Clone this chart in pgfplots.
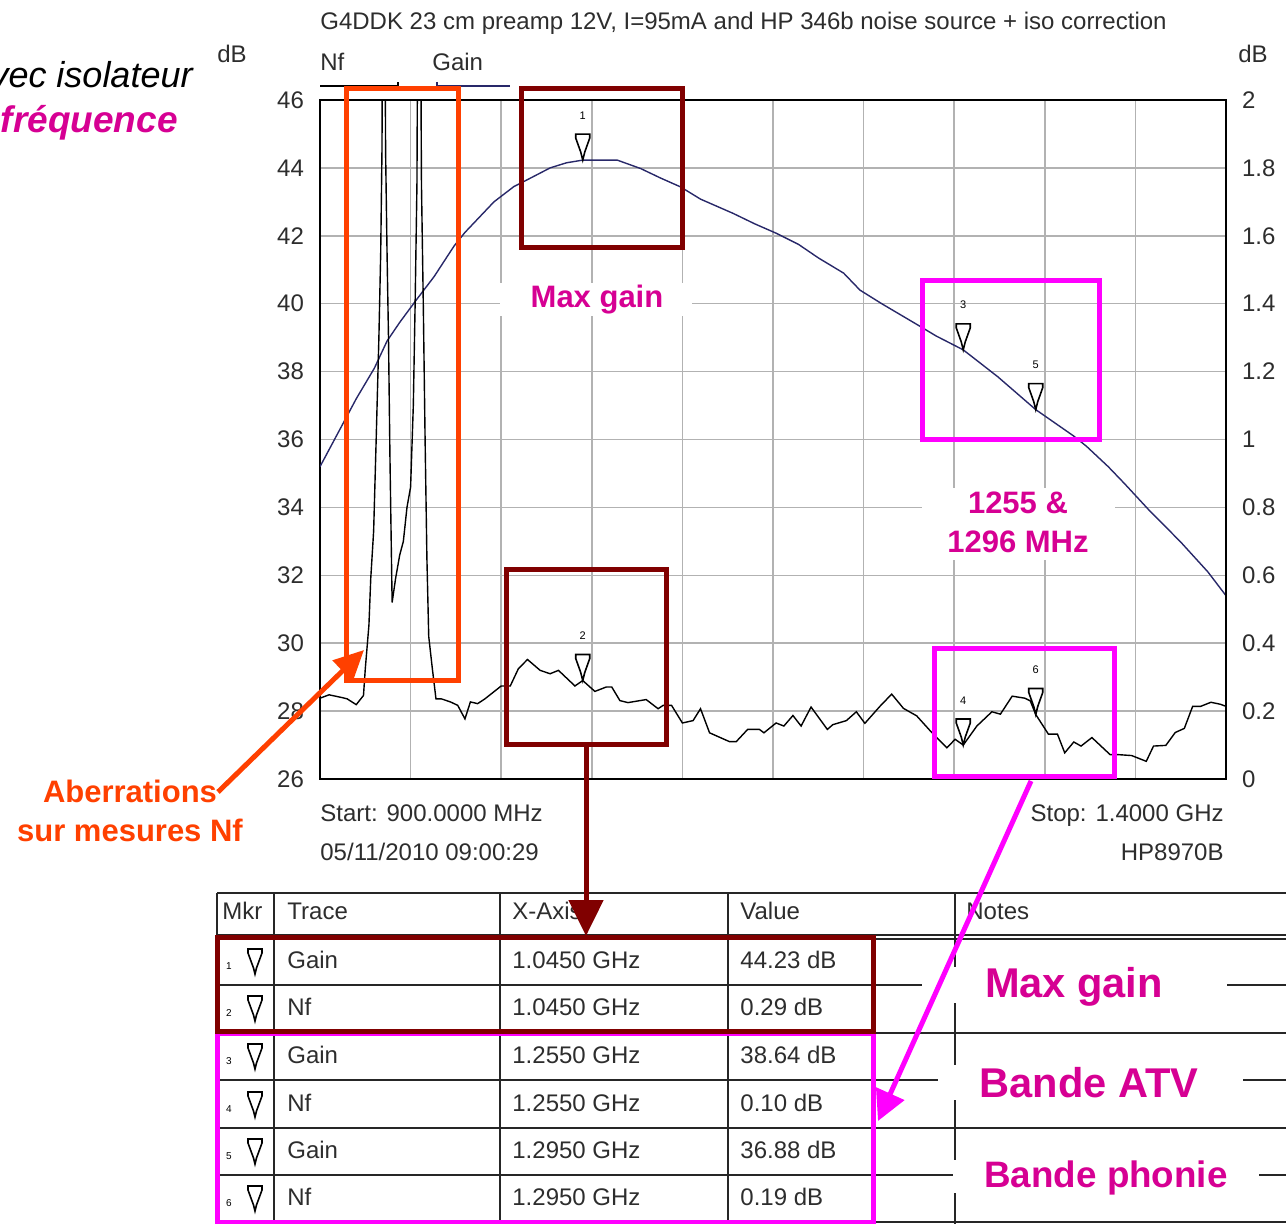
\documentclass[border=0pt]{standalone}
\usepackage{fontspec}
\setmainfont{Liberation Sans}
\usepackage{pgfplots}
\pgfplotsset{compat=1.18}
\usetikzlibrary{arrows.meta}
\definecolor{gridgray}{RGB}{178,178,178}
\definecolor{gaincol}{RGB}{40,40,105}
\definecolor{scr}{RGB}{45,45,45}
\definecolor{magtext}{RGB}{214,0,147}
\definecolor{magbox}{RGB}{255,0,255}
\definecolor{darkred}{RGB}{128,0,0}
\definecolor{orangered}{RGB}{255,64,0}
\newcommand{\fs}[1]{\fontsize{#1}{#1}\selectfont}
% marker shape of the HP8970B software: tip at the data point
\pgfdeclareplotmark{mkr}{%
  \pgfpathmoveto{\pgfqpoint{-3.5pt}{13pt}}%
  \pgfpathlineto{\pgfqpoint{3.5pt}{13pt}}%
  \pgfpathlineto{\pgfqpoint{3.5pt}{11pt}}%
  \pgfpathlineto{\pgfqpoint{1pt}{4pt}}%
  \pgfpathlineto{\pgfqpoint{0pt}{0pt}}%
  \pgfpathlineto{\pgfqpoint{-1pt}{4pt}}%
  \pgfpathlineto{\pgfqpoint{-3.5pt}{11pt}}%
  \pgfpathclose
  \pgfusepathqfillstroke}

\pgfplotstableread{
f g
900 35.2
905 35.7
911 36.3
920 37.2
930 38.1
937 38.9
944 39.45
953 40.1
963 40.8
974 41.7
980 42.1
988 42.55
996 43.0
1007 43.45
1014 43.64
1027 44.0
1036 44.15
1045 44.23
1064 44.23
1077 43.98
1088 43.7
1099 43.44
1110 43.08
1128 42.66
1140 42.35
1152 42.07
1164 41.75
1175 41.35
1189 40.9
1198 40.4
1210 40.0
1230 39.37
1240 39.05
1255 38.64
1274 37.85
1295 36.88
1316 36.1
1323 35.8
1335 35.2
1344 34.7
1357 33.95
1375 32.98
1390 32.1
1400 31.4
}\gaintab

\pgfplotstableread{
f nf
900 0.238
905 0.248
912 0.24
915 0.236
920 0.219
924 0.246
925 0.325
927 0.453
928 0.59
929.6 0.73
931 1.0
932.5 1.3
933.5 1.55
934.2 1.85
934.8 2.6
935.6 2.6
936.2 1.85
937 1.55
937.8 1.3
938.6 0.95
939.8 0.52
941.7 0.59
944 0.66
946 0.70
948 0.80
950 0.86
951.5 1.1
952.5 1.4
953.5 1.75
954.2 2.6
955.2 2.6
956 1.75
957 1.4
958 1.0
959 0.65
960 0.42
962 0.325
964 0.236
967 0.236
972 0.227
976 0.217
980 0.177
983 0.227
987 0.222
991 0.236
1000 0.274
1005 0.274
1009.5 0.325
1014.5 0.352
1021.5 0.32
1027 0.31
1031.6 0.32
1040.7 0.274
1045 0.29
1051.7 0.258
1058 0.271
1061 0.271
1065.5 0.231
1070 0.225
1080 0.234
1086.6 0.207
1089.4 0.217
1094 0.217
1100 0.165
1105.9 0.172
1110 0.207
1115 0.136
1126 0.11
1129.7 0.11
1136 0.146
1142.5 0.146
1145 0.136
1151.7 0.165
1156 0.156
1161 0.187
1165.5 0.156
1171 0.212
1180 0.146
1183 0.16
1190.5 0.172
1196 0.198
1200.7 0.164
1209 0.214
1215.5 0.25
1222 0.208
1229.3 0.186
1237.6 0.137
1246 0.092
1250.5 0.117
1255 0.10
1262.5 0.156
1270.8 0.198
1275.5 0.191
1282 0.244
1289 0.238
1292 0.23
1295 0.19
1302 0.132
1307 0.132
1311 0.077
1316 0.109
1320 0.097
1326 0.122
1336 0.072
1340 0.072
1348 0.069
1356 0.052
1360 0.097
1366.8 0.099
1372 0.137
1377 0.149
1381.6 0.214
1386 0.214
1391.7 0.226
1397 0.22
1400 0.214
}\nftab

\begin{document}
\begin{tikzpicture}[x=0.5pt,y=-0.5pt]
\useasboundingbox (0,0) rectangle (1286,1224);

\pgfplotsset{hpframe/.style={
  at={(160pt,-389.5pt)}, anchor=south west, scale only axis,
  width=453pt, height=339.5pt, xmin=900, xmax=1400,
  major tick length=0pt,
  /pgf/number format/assume math mode=true,
  tick label style={font=\fs{12}, text=scr},
  mkrnum/.style={only marks, mark=mkr, black, line width=0.8pt,
    mark options={fill=white},
    nodes near coords, point meta=explicit symbolic,
    every node near coord/.append style={font=\fs{5.5}, yshift=20pt, inner sep=0pt}},
}}

\begin{scope}[x=1pt,y=1pt]
% gain, left scale
\begin{axis}[hpframe,
  ymin=26, ymax=46,
  xtick={900,950,1000,1050,1100,1150,1200,1250,1300,1350,1400}, xticklabels={},
  ytick={26,28,30,32,34,36,38,40,42,44,46},
  grid=major, major grid style={draw=gridgray, line width=0.75pt},
  axis line style={line width=1pt, black},
  yticklabel style={xshift=-4.5pt}]
\addplot[gaincol, line width=0.7pt] table[x=f, y=g] {\gaintab};
\addplot[mkrnum] table[meta=m] {
f g m
1045 44.23 1
1255 38.64 3
1295 36.88 5
};
\end{axis}

% noise figure, right scale
\begin{axis}[hpframe,
  ymin=0, ymax=2,
  axis y line*=right, axis x line=none,
  axis line style={line width=1pt, black},
  ytick={0,0.2,0.4,0.6,0.8,1,1.2,1.4,1.6,1.8,2},
  yticklabel style={xshift=4.5pt}]
\addplot[black, line width=0.7pt] table[x=f, y=nf] {\nftab};
\addplot[mkrnum] table[meta=m] {
f n m
1045 0.29 2
1255 0.10 4
1295 0.19 6
};
\end{axis}
\end{scope}

% screen texts
\node[anchor=base west, font=\fs{12}, text=scr, inner sep=0] at (320,30)
  {G4DDK 23 cm preamp 12V, I=95mA and HP 346b noise source + iso correction};
\node[font=\fs{12}, text=scr] at (232,54) {dB};
\node[font=\fs{12}, text=scr] at (1253,54) {dB};
\node[anchor=base west, font=\fs{12}, text=scr, inner sep=0] at (320,71) {Nf};
\node[anchor=base west, font=\fs{12}, text=scr, inner sep=0] at (432,71) {Gain};
\draw[black, line width=0.6pt] (320,86) -- (398,86) -- (398,82);
\draw[gaincol, line width=0.6pt] (437,82) -- (437,86) -- (510,86);
\node[anchor=base west, font=\fs{12}, text=scr, inner sep=0] at (320,821) {Start: 900.0000 MHz};
\node[anchor=base west, font=\fs{12}, text=scr, inner sep=0] at (320,861) {05/11/2010 09:00:29};
\node[anchor=base east, font=\fs{12}, text=scr, inner sep=0] at (1224,821) {Stop: 1.4000 GHz};
\node[anchor=base east, font=\fs{12}, text=scr, inner sep=0] at (1224,861) {HP8970B};

% slide texts
\node[anchor=base east, font=\itshape\fs{18}, inner sep=0] at (193,88) {vec isolateur};
\node[anchor=base east, font=\bfseries\itshape\fs{18.5}, text=magtext, inner sep=0] at (178,133) {fréquence};

% annotations on the plot
\fill[white] (500,283) rectangle (692,316);
\node[font=\bfseries\fs{15.5}, text=magtext] at (597,300) {Max gain};
\fill[white] (922,488) rectangle (1115,560);
\node[font=\bfseries\fs{15.5}, text=magtext] at (1018,503) {1255 \&};
\node[font=\bfseries\fs{15.5}, text=magtext] at (1018,542) {1296 MHz};
\draw[orangered, line width=2.5pt] (346,89) rectangle (458,681);
\draw[darkred, line width=2.5pt] (521,89) rectangle (682,248);
\draw[darkred, line width=2.5pt] (506,570) rectangle (666,745);
\draw[magbox, line width=2.5pt] (922,281) rectangle (1099,440);
\draw[magbox, line width=2.5pt] (934,649) rectangle (1114,777);
\node[font=\bfseries\fs{15.5}, text=orangered] at (130,791) {Aberrations};
\node[font=\bfseries\fs{15.5}, text=orangered] at (130,830) {sur mesures Nf};
\draw[orangered, line width=2.5pt, -{Triangle[length=15pt,width=14pt]}] (218,792) -- (364,650);

% marker table
\foreach \yy in {893,935,939,985,1033,1080,1128,1175,1222}
  \draw[black!85, line width=0.9pt] (217,\yy) -- (1286,\yy);
\foreach \xx in {217,274,500,728,955}
  \draw[black!85, line width=0.9pt] (\xx,893) -- (\xx,1224);
\node[anchor=base west, font=\fs{12}, text=scr, inner sep=0] at (222,920) {Mkr};
\node[anchor=base west, font=\fs{12}, text=scr, inner sep=0] at (287,920) {Trace};
\node[anchor=base west, font=\fs{12}, text=scr, inner sep=0] at (512,920) {X-Axis};
\node[anchor=base west, font=\fs{12}, text=scr, inner sep=0] at (740,920) {Value};
\node[anchor=base west, font=\fs{12}, text=scr, inner sep=0] at (966,920) {Notes};
\foreach \n/\yy/\tr/\xa/\va in {
  1/960/Gain/1.0450 GHz/44.23 dB,
  2/1007/Nf/1.0450 GHz/0.29 dB,
  3/1055/Gain/1.2550 GHz/38.64 dB,
  4/1103/Nf/1.2550 GHz/0.10 dB,
  5/1150/Gain/1.2950 GHz/36.88 dB,
  6/1197/Nf/1.2950 GHz/0.19 dB}{
  \node[font=\fs{5}, text=black, inner sep=0] at (229,\yy+6) {\n};
  \draw[black, line width=0.8pt] (248,\yy-11) -- (262,\yy-11) -- (262,\yy-7) -- (256.5,\yy+8) -- (255,\yy+14) -- (253.5,\yy+8) -- (248,\yy-7) -- cycle;
  \node[anchor=base west, font=\fs{12}, text=scr, inner sep=0] at (287,\yy+8) {\tr};
  \node[anchor=base west, font=\fs{12}, text=scr, inner sep=0] at (512,\yy+8) {\xa};
  \node[anchor=base west, font=\fs{12}, text=scr, inner sep=0] at (740,\yy+8) {\va};
}
\fill[white] (922,967) rectangle (1227,1003);
\node[font=\bfseries\fs{20.8}, text=magtext] at (1074,987) {Max gain};
\fill[white] (938,1065) rectangle (1243,1100);
\node[font=\bfseries\fs{20.8}, text=magtext] at (1089,1083) {Bande ATV};
\fill[white] (953,1160) rectangle (1259,1193);
\node[font=\bfseries\fs{18.4}, text=magtext] at (1106,1178) {Bande phonie};
\draw[magbox, line width=2.5pt] (217,1033) rectangle (873,1222);
\draw[darkred, line width=2.5pt] (217,937) rectangle (873,1031);
\draw[darkred, line width=2.5pt, -{Triangle[length=18pt,width=17pt]}] (586,745) -- (586,936);
\draw[magbox, line width=2.5pt, -{Triangle[length=15pt,width=15pt]}] (1031,781) -- (878,1121);
\end{tikzpicture}
\end{document}
